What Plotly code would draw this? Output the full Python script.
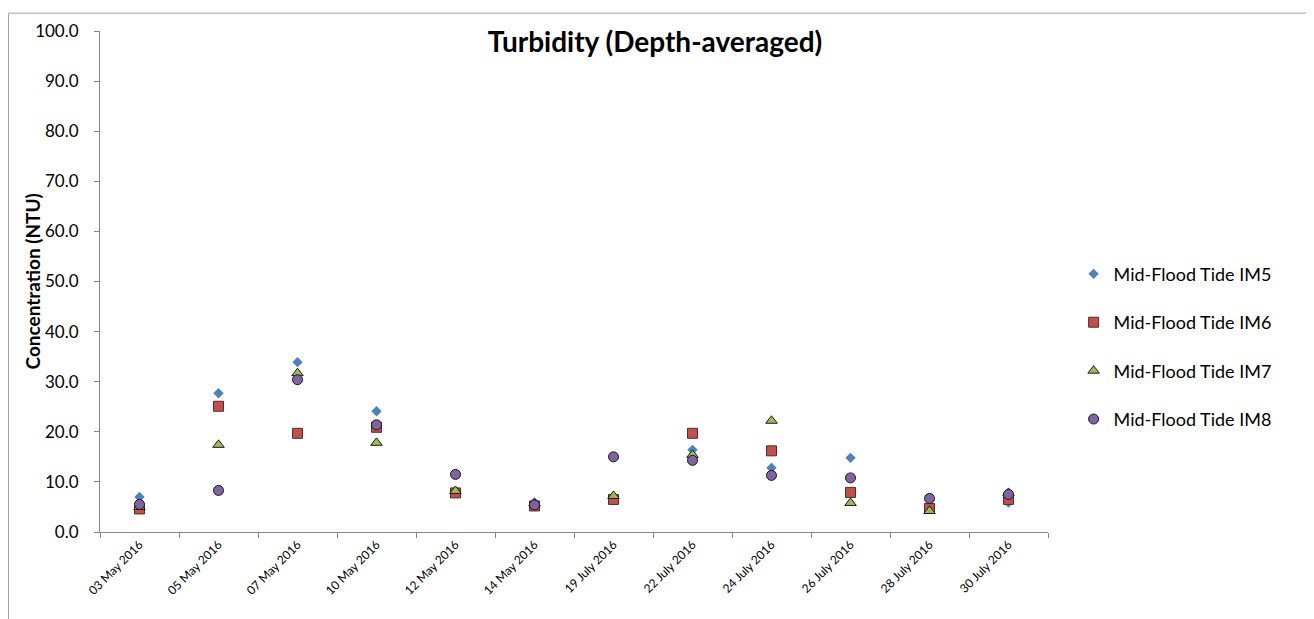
import plotly.graph_objects as go

dates = ["03 May 2016", "05 May 2016", "07 May 2016", "10 May 2016", "12 May 2016", "14 May 2016",
         "19 July 2016", "22 July 2016", "24 July 2016", "26 July 2016", "28 July 2016", "30 July 2016"]
im5 = [7.0, 27.7, 33.9, 24.1, 8.0, 5.9, 6.8, 16.4, 12.8, 14.8, 5.0, 5.9]
im6 = [4.6, 25.1, 19.7, 20.9, 7.8, 5.2, 6.5, 19.7, 16.2, 7.9, 4.7, 6.5]
im7 = [5.0, 17.4, 31.7, 17.8, 8.2, 5.7, 7.2, 15.4, 22.2, 5.8, 4.2, 7.8]
im8 = [5.5, 8.3, 30.4, 21.4, 11.5, 5.4, 15.0, 14.3, 11.3, 10.8, 6.7, 7.5]

series = [
    ("Mid-Flood Tide IM5", im5, "diamond", "#4F81BD", 8, 0, "#4F81BD"),
    ("Mid-Flood Tide IM6", im6, "square", "#C0504D", 10, 1, "#5a2a28"),
    ("Mid-Flood Tide IM7", im7, "triangle-up", "#9BBB59", 10, 1, "#1a1a1a"),
    ("Mid-Flood Tide IM8", im8, "circle", "#8064A2", 10, 1, "#1a1a1a"),
]

fig = go.Figure()
for i, (name, vals, sym, col, sz, lw, lc) in enumerate(series):
    fig.add_trace(go.Scatter(
        x=dates, y=vals, mode="markers", name=name, legendgroup=f"g{i}",
        marker=dict(symbol=sym, color=col, size=sz, line=dict(width=lw, color=lc)),
    ))

fig.update_layout(
    width=1314, height=619,
    paper_bgcolor="white", plot_bgcolor="white",
    margin=dict(l=92, r=274, t=19, b=95),
    font=dict(family="Lato, Open Sans, sans-serif", color="#000000"),
    title=dict(text="<b>Turbidity (Depth-averaged)</b>", x=0.4924, xanchor="center",
               y=0.945, yanchor="middle", font=dict(size=28)),
    showlegend=True,
    legend=dict(x=1.027, y=0.37, xanchor="left", yanchor="middle",
                font=dict(size=18), tracegroupgap=22, itemsizing="trace",
                traceorder="grouped"),
    xaxis=dict(type="category", showgrid=False, showline=True, linecolor="#868686", linewidth=1,
               ticks="outside", tickson="boundaries", ticklen=5, tickcolor="#868686",
               tickangle=-45, tickfont=dict(size=12), range=[-0.5, 11.5]),
    yaxis=dict(range=[0, 100], dtick=10, tickformat=".1f", showgrid=False, showline=True,
               linecolor="#868686", linewidth=1, ticks="outside", ticklen=5, tickcolor="#868686",
               tickfont=dict(size=17), zeroline=False, ticklabelstandoff=12),
    annotations=[dict(text="<b>Concentration (NTU)</b>", xref="paper", yref="paper",
                      x=-0.0707, y=0.5, xanchor="center", yanchor="middle", textangle=-90,
                      showarrow=False, font=dict(size=19))],
    shapes=[dict(type="rect", xref="paper", yref="paper", x0=-0.0965, x1=1.2774, y0=-0.3, y1=1.0356,
                 line=dict(color="#A0A0A0", width=1))],
)

fig.write_html("out.html")
